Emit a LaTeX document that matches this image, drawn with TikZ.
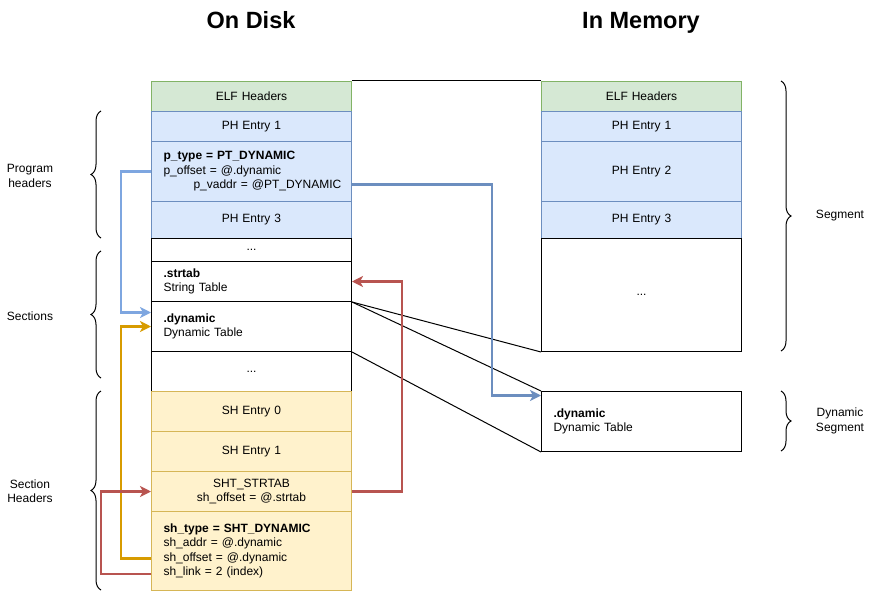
\documentclass[tikz,border=0pt]{standalone}
\usepackage{fontspec}
\setmainfont{Liberation Sans}
\usetikzlibrary{arrows.meta,decorations.pathreplacing,calc}
\definecolor{gfill}{HTML}{D5E8D4}\definecolor{gline}{HTML}{82B366}
\definecolor{bfill}{HTML}{DAE8FC}\definecolor{bline}{HTML}{6C8EBF}
\definecolor{yfill}{HTML}{FFF2CC}\definecolor{yline}{HTML}{D6B656}
\definecolor{orng}{HTML}{D79B00}\definecolor{redc}{HTML}{B85450}
\definecolor{lblue}{HTML}{7EA6E0}
\begin{document}
\begin{tikzpicture}[x=1pt,y=-1pt,
  cell/.style={draw, line width=1pt, minimum width=200pt, inner sep=0pt, anchor=north west,
    font=\fontsize{12}{14.5}\selectfont, align=center, text width=200pt},
  lcell/.style={cell, align=left, text width=176pt, inner xsep=12pt},
  green/.style={fill=gfill, draw=gline},
  blue/.style={fill=bfill, draw=bline},
  yel/.style={fill=yfill, draw=yline},
  plain/.style={fill=white, draw=black},
  lbl/.style={font=\fontsize{12}{14.5}\selectfont, align=center},
  ttl/.style={font=\fontsize{23.5}{28}\selectfont\bfseries, anchor=base},
  conn/.style={line width=2.5pt, -{Stealth[length=11pt,width=11pt,inset=3pt]}},
  brc/.style={decorate, decoration={brace, amplitude=10pt}, line width=1pt},
  thin/.style={line width=1pt}
]
\useasboundingbox (0,0) rectangle (880,591);

% titles
\node[ttl] (tdisk) at (251,29) {On Disk};
\node[ttl] (tmem) at (641,29) {In Memory};

% on disk column
\node[cell, green, minimum height=30pt] (elf) at (151,81) {ELF Headers};
\node[cell, blue, minimum height=30pt] (ph1) at (151,111) {PH Entry 1};
\node[lcell, blue, minimum height=60pt] (ptype) at (151,141) {\textbf{p\_type = PT\_DYNAMIC}\\p\_offset = @.dynamic\\\hspace*{30pt}\mbox{p\_vaddr = @PT\_DYNAMIC}};
\node[cell, blue, minimum height=37pt] (ph3) at (151,201) {PH Entry 3};
\node[cell, plain, minimum height=23pt] (dots1) at (151,238) {...};
\node[lcell, plain, minimum height=40pt] (strtab) at (151,261) {\textbf{.strtab}\\String Table};
\node[lcell, plain, minimum height=50pt] (dyn) at (151,301) {\textbf{.dynamic}\\Dynamic Table};
\node[cell, plain, minimum height=40pt] (dots2) at (151,351) {...};
\node[cell, yel, minimum height=40pt] (sh0) at (151,391) {SH Entry 0};
\node[cell, yel, minimum height=40pt] (sh1) at (151,431) {SH Entry 1};
\node[cell, yel, minimum height=40pt] (shstr) at (151,471) {SHT\_STRTAB\\sh\_offset = @.strtab};
\node[lcell, yel, minimum height=79pt] (shdyn) at (151,511) {\textbf{sh\_type = SHT\_DYNAMIC}\\sh\_addr = @.dynamic\\sh\_offset = @.dynamic\\sh\_link = 2 (index)};

% in memory column
\node[cell, green, minimum height=30pt] (elfm) at (541,81) {ELF Headers};
\node[cell, blue, minimum height=30pt] (ph1m) at (541,111) {PH Entry 1};
\node[cell, blue, minimum height=60pt] (ph2m) at (541,141) {PH Entry 2};
\node[cell, blue, minimum height=37pt] (ph3m) at (541,201) {PH Entry 3};
\node[cell, plain, minimum height=113pt] (dotsm) at (541,238) {...};
\node[lcell, plain, minimum height=60pt] (dynm) at (541,391) {\textbf{.dynamic}\\Dynamic Table};

% thin lines
\draw[thin] (elf.north east) -- (elfm.north west);
\draw[thin] (strtab.south east) -- (dotsm.south west);
\draw[thin] (strtab.south east) -- (dynm.north west);
\draw[thin] (dyn.south east) -- (dynm.south west);

% connectors
\draw[conn, lblue] (ptype.west) -- ++(-30,0) |- ([yshift=14pt]dyn.west);
\draw[conn, bline] ([yshift=-13pt]ptype.east) -- ++(140,0) |- ([yshift=26pt]dynm.west);
\draw[conn, orng] ([yshift=-7.5pt]shdyn.west) -- ++(-30,0) |- (dyn.west);
\draw[conn, redc] (shstr.east) -- ++(50,0) |- (strtab.east);
\draw[conn, redc] ([yshift=-23pt]shdyn.west) -- ++(-50,0) |- (shstr.west);

% braces
\draw[brc] (101,238) -- (101,111);
\draw[brc] (101,378) -- (101,251);
\draw[brc] (101,590) -- (101,391);
\draw[brc] (781,81) -- (781,351);
\draw[brc] (781,391) -- (781,451);

% brace labels
\node[lbl] (lph) at (30,176) {Program\\headers};
\node[lbl] (lsec) at (30,316) {Sections};
\node[lbl] (lsh) at (30,491) {Section\\Headers};
\node[lbl] (lseg) at (840,216) {Segment};
\node[lbl] (ldseg) at (840,421) {Dynamic\\Segment};
\end{tikzpicture}
\end{document}
